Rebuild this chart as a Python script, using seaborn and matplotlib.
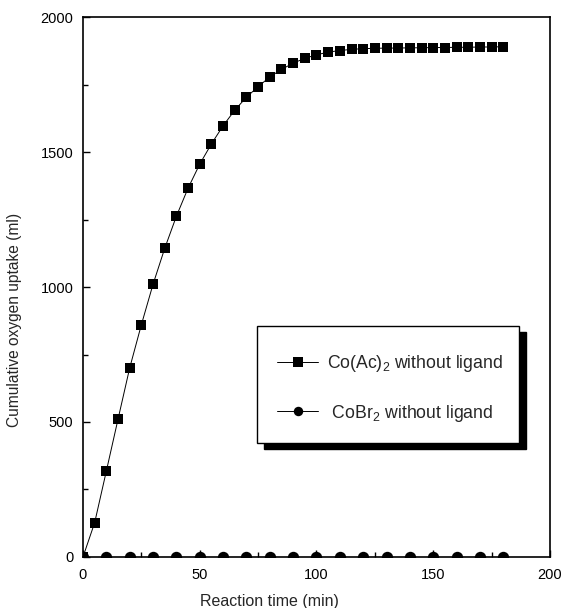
import pandas as pd
import matplotlib
matplotlib.use('Agg')
import matplotlib.pyplot as plt
import seaborn as sns
from matplotlib.patches import Rectangle
from matplotlib.ticker import MultipleLocator

# data
time_coac = [0, 5, 10, 15, 20, 25, 30, 35, 40, 45, 50, 55, 60, 65, 70, 75, 80, 85, 90,
             95, 100, 105, 110, 115, 120, 125, 130, 135, 140, 145, 150, 155, 160, 165,
             170, 175, 180]
uptake_coac = [0, 127, 318, 510, 700, 860, 1010, 1143, 1262, 1366, 1455, 1530, 1597,
               1655, 1703, 1742, 1778, 1806, 1829, 1847, 1860, 1870, 1876, 1880, 1883,
               1884, 1885, 1885, 1886, 1886, 1887, 1887, 1888, 1888, 1889, 1889, 1890]
time_cobr = [0, 10, 20, 30, 40, 50, 60, 70, 80, 90, 100, 110, 120, 130, 140, 150, 160,
             170, 180]
uptake_cobr = [0] * len(time_cobr)

label_coac = 'Co(Ac)$_2$ without ligand'
label_cobr = 'CoBr$_2$ without ligand'

df = pd.concat([
    pd.DataFrame({'time': time_coac, 'uptake': uptake_coac, 'series': label_coac}),
    pd.DataFrame({'time': time_cobr, 'uptake': uptake_cobr, 'series': label_cobr}),
])

sns.set_style('ticks')
plt.rcParams['font.family'] = ['Liberation Sans', 'DejaVu Sans']
plt.rcParams['mathtext.default'] = 'regular'

fig = plt.figure(figsize=(5.66, 6.08), dpi=100)
ax = fig.add_axes([0.1466, 0.0839, 0.8251, 0.8881])

sns.lineplot(data=df, x='time', y='uptake', hue='series', style='series',
             markers={label_coac: 's', label_cobr: 'o'}, dashes=False,
             palette={label_coac: 'black', label_cobr: 'black'},
             linewidth=0.7, markersize=7.3, markeredgewidth=0,
             ax=ax, legend=False)
# circles sit on the axis and look a bit bigger than the squares
for ln in ax.lines:
    if ln.get_marker() == 'o':
        ln.set_markersize(8.2)

ax.set_xlim(0, 200)
ax.set_ylim(0, 2000)
ax.xaxis.set_major_locator(MultipleLocator(50))
ax.xaxis.set_minor_locator(MultipleLocator(25))
ax.yaxis.set_major_locator(MultipleLocator(500))
ax.yaxis.set_minor_locator(MultipleLocator(250))
ax.tick_params(which='both', direction='in', top=False, right=False, labelsize=10.5,
               colors='black')
ax.tick_params(which='major', length=5, width=1)
ax.tick_params(which='minor', length=3.6, width=1)
ax.tick_params(axis='x', which='major', pad=8)
ax.tick_params(axis='y', which='major', pad=7)
for s in ax.spines.values():
    s.set_linewidth(1.2)
    s.set_color('black')
    s.set_zorder(3)

ax.set_xlabel('Reaction time (min)', fontsize=11.5, va='center')
ax.xaxis.set_label_coords(0.40, -0.083)
ax.set_ylabel('Cumulative oxygen uptake (ml)', fontsize=11.2, va='center', ha='center')
ax.yaxis.set_label_coords(-0.146, 0.439)

# legend box with solid offset shadow
bx, by, bw, bh = 0.3726, 0.211, 0.561, 0.2167
ax.add_patch(Rectangle((bx + 0.015, by - 0.011), bw, bh, transform=ax.transAxes,
                       facecolor='black', edgecolor='black', zorder=4))
ax.add_patch(Rectangle((bx, by), bw, bh, transform=ax.transAxes,
                       facecolor='white', edgecolor='black', linewidth=1.0, zorder=4.5))
handles = [
    plt.Line2D([], [], color='black', linewidth=0.7, marker='s', markersize=6.5,
               markeredgewidth=0),
    plt.Line2D([], [], color='black', linewidth=0.7, marker='o', markersize=6.8,
               markeredgewidth=0),
]
ax.legend(handles, [label_coac, ' ' + label_cobr], loc='center left',
          bbox_to_anchor=(0.4154, 0.312), frameon=False, fontsize=12.7,
          borderpad=0, borderaxespad=0, handlelength=2.33, labelspacing=1.6,
          handletextpad=0.5)

fig.savefig('out.png', dpi=100)
